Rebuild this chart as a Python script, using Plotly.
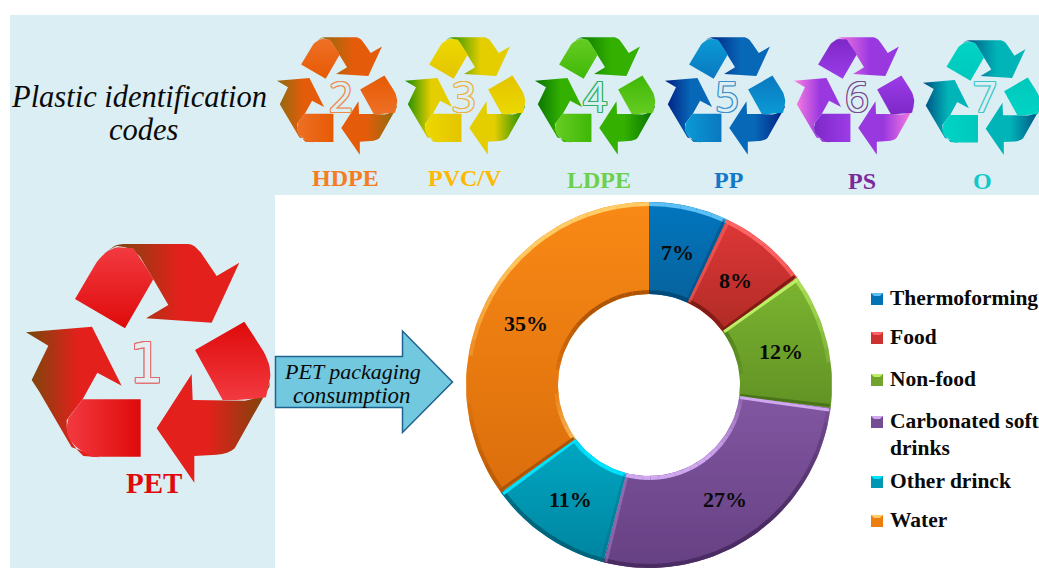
import math
import plotly.graph_objects as go

# ---------- data ----------
categories = ["Thermoforming", "Food", "Non-food", "Carbonated soft<br>drinks", "Other drinck", "Water"]
shares = [7, 8, 12, 27, 11, 35]
slice_mid = ["#0272B4", "#CE3230", "#70A42C", "#744C92", "#0097B2", "#EE7D10"]
slice_top = ["#0278C4", "#E83C3C", "#82BE34", "#8A5CAA", "#00B0CC", "#FF9018"]
slice_bot = ["#0A5A90", "#A02820", "#5A8A22", "#5F3A7A", "#007A96", "#D2660A"]
slice_light = ["#5CC0F5", "#FF6464", "#BDEE66", "#CFA8F0", "#00E4FF", "#FFCC66"]
slice_dark = ["#004A7A", "#801C14", "#4A741A", "#4A2C62", "#00647A", "#AE5406"]
code_names = ["HDPE", "PVC/V", "LDPE", "PP", "PS", "O"]
code_digits = ["2", "3", "4", "5", "6", "7"]
code_colors = ["#F57C1F", "#FFB800", "#6CD04A", "#1478C8", "#7A2A9C", "#10C8C8"]

W, H = 1039, 568


def q(p0, c, p1, n=10):
    out = []
    for i in range(n + 1):
        t = i / n
        out.append(((1 - t) ** 2 * p0[0] + 2 * t * (1 - t) * c[0] + t * t * p1[0],
                    (1 - t) ** 2 * p0[1] + 2 * t * (1 - t) * c[1] + t * t * p1[1]))
    return out


# recycling symbol outline, in its own drawing units
TOP_FOLD = [(225, 297)] + q((262, 235), (305, 145), (355, 142)) + q((400, 145), (430, 185), (460, 238)) + [(375, 385)]
TOP_BODY = q((325, 150), (345, 132), (370, 132), 4) + q((565, 132), (590, 135), (612, 172), 5) + [(650, 228), (718, 188), (635, 368), (438, 355), (505, 315), (460, 238)] + q((420, 170), (390, 138), (350, 138), 6)
RIGHT_FOLD = [(585, 450), (733, 365)] + q((772, 425), (822, 495), (808, 545)) + q((798, 592), (730, 602), (668, 600), 6)
RIGHT_BODY = [(808, 560), (712, 735)] + q((712, 735), (695, 762), (650, 764), 5) + [(583, 768), (583, 848), (470, 685), (575, 522), (578, 600), (668, 600)] + q((735, 602), (795, 592), (810, 545), 6)
LEFT_FOLD = [(422, 598), (248, 598)] + q((205, 655), (185, 720), (250, 755)) + q((275, 770), (330, 770), (422, 770), 4)
LEFT_BODY = [(215, 742), (118, 575)] + q((95, 540), (110, 510), (145, 437), 5) + [(78, 397), (276, 380), (365, 557), (292, 518), (248, 598)] + q((200, 660), (195, 720), (250, 768), 5) + [(300, 772)]

fig = go.Figure()


def icon(x0, y0, s, fold, body, tip):
    def add(poly, scale, kind):
        xs = [x0 + s * p[0] for p in poly] + [x0 + s * poly[0][0]]
        ys = [y0 + s * p[1] for p in poly] + [y0 + s * poly[0][1]]
        fig.add_trace(go.Scatter(x=xs, y=ys, mode="lines", line=dict(width=0), fill="toself",
                                 fillgradient=dict(type=kind, colorscale=scale),
                                 hoverinfo="skip", showlegend=False))
    rise = [[0, body], [0.55, tip], [1, tip]]
    fall = [[0, tip], [0.45, tip], [1, body]]
    light, deep = fold
    add(TOP_BODY, rise, "horizontal")
    add(RIGHT_BODY, fall, "horizontal")
    add(LEFT_BODY, rise, "horizontal")
    add(TOP_FOLD, [[0, deep], [1, light]], "vertical")
    add(RIGHT_FOLD, [[0, light], [1, deep]], "vertical")
    add(LEFT_FOLD, [[0, light], [1, deep]], "horizontal")


icon(0, 200, 1 / 3, ("#F23A40", "#DE0A0A"), "#75480A", "#E4201C")
icon(264.2, 15.7, 0.164, ("#EE7026", "#E65A04"), "#8B6B0F", "#E45C0A")
icon(392.2, 15.7, 0.164, ("#ECD800", "#E4C400"), "#138A00", "#E4CE00")
icon(522.2, 15.7, 0.164, ("#66CC22", "#3FB806"), "#057000", "#33B000")
icon(652.2, 15.7, 0.164, ("#0A9AD4", "#0A78C0"), "#001C80", "#0868B8")
icon(781.2, 15.7, 0.164, ("#7E28C8", "#9C3CE8"), "#FF80E0", "#9A38E0")
icon(910.5, 19.2, 0.16, ("#00D4C4", "#00C8BC"), "#004C80", "#00B4B8")

# ---------- donut ----------
CX, CY, R_OUT, R_IN = 649, 385, 183, 91
pos = lambda deg, r: (CX + r * math.sin(math.radians(deg)), CY - r * math.cos(math.radians(deg)))
total = sum(shares)
edges = [0]
for v in shares:
    edges.append(edges[-1] + v / total * 360)

for i in range(len(shares)):
    a0, a1 = edges[i], edges[i + 1]
    n = max(4, int((a1 - a0) / 2))
    angs = [a0 + (a1 - a0) * k / n for k in range(n + 1)]
    pts = [pos(a, R_OUT) for a in angs] + [pos(a, R_IN) for a in reversed(angs)]
    pts.append(pts[0])
    fig.add_trace(go.Scatter(x=[p[0] for p in pts], y=[p[1] for p in pts], mode="lines", line=dict(width=0),
                             fill="toself",
                             fillgradient=dict(type="vertical", colorscale=[[0, slice_bot[i]], [1, slice_top[i]]]),
                             hoverinfo="skip", showlegend=False))


def rgba(c, a):
    return "rgba(%d,%d,%d,%.2f)" % (int(c[1:3], 16), int(c[3:5], 16), int(c[5:7], 16), a)


fig.add_trace(go.Pie(
    values=shares, labels=[c.replace("<br>", " ") for c in categories], sort=False, direction="clockwise", rotation=0,
    hole=R_IN / R_OUT, domain=dict(x=[(CX - R_OUT) / W, (CX + R_OUT) / W], y=[0, (H - CY + R_OUT) / H]),
    marker=dict(colors=[rgba(c, 0.35) for c in slice_mid], line=dict(width=0)),
    textinfo="none", showlegend=False, hoverinfo="label+percent"))

shapes = [
    dict(type="rect", layer="below", xref="x", yref="y", x0=10, x1=W, y0=15, y1=195, fillcolor="#DAEEF4", line_width=0),
    dict(type="rect", layer="below", xref="x", yref="y", x0=10, x1=275, y0=195, y1=H, fillcolor="#DAEEF4", line_width=0),
    dict(type="path", layer="below", xref="x", yref="y",
         path="M275.5 356.5 L402.5 356.5 L402.5 331 L452.5 382 L402.5 432.5 L402.5 407.5 L275.5 407.5 Z",
         fillcolor="#72C8DE", line=dict(color="#1F6391", width=1.5)),
]


def edge(p, q_, color, alpha, width):
    shapes.append(dict(type="path", layer="above", xref="x", yref="y",
                       path="M%.1f %.1f L%.1f %.1f" % (p[0], p[1], q_[0], q_[1]),
                       line=dict(color=rgba(color, alpha), width=width)))


for i in range(len(shares)):
    a0, a1 = edges[i], edges[i + 1]
    n = max(2, int(round((a1 - a0) / 5)))
    for k in range(n):
        u, v = a0 + (a1 - a0) * k / n, a0 + (a1 - a0) * (k + 1) / n
        f = math.cos(math.radians((u + v) / 2))
        for r, facing in ((R_OUT - 2, f), (R_IN + 2, -f)):
            if abs(facing) > 0.12:
                edge(pos(u, r), pos(v, r), slice_light[i] if facing > 0 else slice_dark[i], min(1, abs(facing) * 1.3), 4)
    for ang, facing in ((a0 + 0.7, math.sin(math.radians(a0))), (a1 - 0.7, -math.sin(math.radians(a1)))):
        if abs(facing) > 0.12:
            edge(pos(ang, R_IN + 1), pos(ang, R_OUT - 1), slice_light[i] if facing > 0 else slice_dark[i], min(1, abs(facing) * 1.3), 3)

annotations = []


def label(x, y, text, size, color="#0a0a0a", bold=False, italic=False, family="Liberation Serif", shadow=None, anchor="center"):
    font = dict(family=family, size=size, color=color, weight="bold" if bold else "normal",
                style="italic" if italic else "normal")
    if shadow:
        font["shadow"] = shadow
    annotations.append(dict(x=x, y=y, xref="x", yref="y", text=text, showarrow=False, xanchor=anchor, yanchor="middle", font=font))


def outline(c):
    return "-1px 0 {0}, 1px 0 {0}, 0 -1px {0}, 0 1px {0}, -1px -1px {0}, 1px -1px {0}, -1px 1px {0}, 1px 1px {0}".format(c)


label(139, 97, "Plastic identification", 30.5, italic=True)
label(143, 130, "codes", 30.5, italic=True)
label(352, 371, "PET packaging", 22, italic=True)
label(352, 395, "consumption", 23, italic=True)
label(154, 483, "PET", 29, color="#E00A0A", bold=True)
label(146, 363, "1", 55, color="#E4EEF2", family="DejaVu Sans", shadow=outline("#E06868"))

name_x = [345, 465, 599, 728, 862, 982]
name_y = [178, 178, 180, 180, 181, 181]
digit_x = [341, 464, 595, 727, 857, 985]
digit_line = ["#F08A4A", "#F0B040", "#30B060", "#3F90C8", "#7A4A90", "#40C8C8"]
for i in range(6):
    label(name_x[i], name_y[i], code_names[i], 24, color=code_colors[i], bold=True)
    label(digit_x[i], 95, code_digits[i], 42, color="#DAEEF4", family="Open Sans", shadow=outline(digit_line[i]))

# percent labels sit at the middle of each ring segment
for i, v in enumerate(shares):
    lx, ly = pos((edges[i] + edges[i + 1]) / 2, (R_OUT + R_IN) / 2)
    label(lx - 1, ly + 1, "%d%%" % v, 22, bold=True)

legend_y = [298, 337, 379, 421, 481, 520]
for i, cat in enumerate(categories):
    yc = legend_y[i] + 1
    x0, x1 = 871, 883
    shapes.append(dict(type="rect", xref="x", yref="y", x0=x0, x1=x1, y0=yc - 6, y1=yc + 6, fillcolor=slice_mid[i], line_width=0))
    shapes.append(dict(type="path", xref="x", yref="y", path="M%d %d L%d %d L%d %d L%d %d Z" % (x0, yc - 6, x1, yc - 6, x1 - 3, yc - 3, x0 + 3, yc - 3),
                       fillcolor=slice_light[i], line_width=0))
    lines = cat.split("<br>")
    label(888, legend_y[i], lines[0], 21.5, bold=True, anchor="left")
    if len(lines) > 1:
        label(888, legend_y[i] + 27, lines[1], 21.5, bold=True, anchor="left")

fig.update_layout(
    width=W, height=H, margin=dict(l=0, r=0, t=0, b=0), paper_bgcolor="white", plot_bgcolor="rgba(0,0,0,0)",
    xaxis=dict(range=[0, W], visible=False, fixedrange=True),
    yaxis=dict(range=[H, 0], visible=False, fixedrange=True),
    shapes=shapes, annotations=annotations, showlegend=False,
)
fig.write_html("out.html", config=dict(displayModeBar=False), post_script="document.body.style.margin='0';")
